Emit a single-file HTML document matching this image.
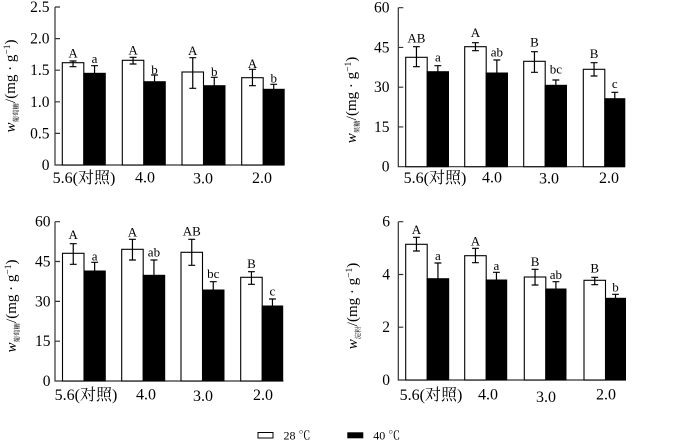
<!DOCTYPE html>
<html><head><meta charset="utf-8"><style>
html,body{margin:0;padding:0;background:#fff;}
svg{display:block;}
text{font-family:"Liberation Serif","Noto Serif CJK SC",serif;fill:#000;}
.tk{font-size:15.5px;text-anchor:end;}
.xl{font-size:16px;text-anchor:middle;}
.lb{font-size:13px;text-anchor:middle;}
.yt{font-size:15px;text-anchor:middle;}
.ax{stroke:#333;stroke-width:1.2;fill:none;}
.wb{fill:#fff;stroke:#000;stroke-width:1.1;}
.bb{fill:#000;stroke:#000;stroke-width:1;}
.eb{stroke:#000;stroke-width:1.2;fill:none;}
</style></head><body>
<svg width="700" height="441" viewBox="0 0 700 441" xmlns="http://www.w3.org/2000/svg">

<!-- ============ Panel 1 ============ -->
<path class="ax" d="M55,7 V165 H284 M55,7 H60 M55,38.6 H60 M55,70.2 H60 M55,101.8 H60 M55,133.4 H60"/>
<text class="tk" x="49.5" y="12">2.5</text>
<text class="tk" x="49.5" y="43.6">2.0</text>
<text class="tk" x="49.5" y="75.2">1.5</text>
<text class="tk" x="49.5" y="106.8">1.0</text>
<text class="tk" x="49.5" y="138.4">0.5</text>
<text class="tk" x="49.5" y="170">0</text>
<text class="yt" transform="rotate(-90 15 86)" x="15" y="86"><tspan font-style="italic">w</tspan><tspan font-size="6.5" dy="3">葡萄糖</tspan><tspan dy="-3">/(mg · g</tspan><tspan font-size="9.5" dy="-5">−1</tspan><tspan dy="5">)</tspan></text>

<rect class="wb" x="62.3" y="62.7" width="21.5" height="102.3"/>
<rect class="bb" x="83.8" y="73.3" width="21.5" height="91.7"/>
<rect class="wb" x="122.3" y="60.3" width="21.5" height="104.7"/>
<rect class="bb" x="143.8" y="81.7" width="21.5" height="83.3"/>
<rect class="wb" x="182" y="72" width="21.5" height="93"/>
<rect class="bb" x="203.5" y="85.7" width="21.5" height="79.3"/>
<rect class="wb" x="241.7" y="77.7" width="21.5" height="87.3"/>
<rect class="bb" x="263.2" y="89.3" width="21" height="75.7"/>
<path class="eb" d="M73.05,61 V66.7 M69.6,61 H76.5 M69.6,66.7 H76.5
M94.55,65.7 V74 M91.1,65.7 H98
M133.05,57.3 V64 M129.6,57.3 H136.5 M129.6,64 H136.5
M154.55,75 V82 M151.1,75 H158
M192.75,57.7 V88.3 M189.3,57.7 H196.2 M189.3,88.3 H196.2
M214.25,77.3 V86 M210.8,77.3 H217.7
M252.45,69.3 V85.7 M249,69.3 H255.9 M249,85.7 H255.9
M273.7,84.3 V90 M270.3,84.3 H277.1"/>
<text class="lb" x="73.05" y="57.7">A</text>
<text class="lb" x="94.55" y="63">a</text>
<text class="lb" x="133.05" y="54.3">A</text>
<text class="lb" x="154.55" y="74">b</text>
<text class="lb" x="192.75" y="55">A</text>
<text class="lb" x="214.25" y="76">b</text>
<text class="lb" x="252.45" y="68">A</text>
<text class="lb" x="273.7" y="82.5">b</text>
<text class="xl" x="84" y="183">5.6(对照)</text>
<text class="xl" x="145" y="182.5">4.0</text>
<text class="xl" x="203" y="183.5">3.0</text>
<text class="xl" x="262" y="183">2.0</text>

<!-- ============ Panel 2 ============ -->
<path class="ax" d="M398.3,7.7 V166.7 H625 M398.3,7.7 H403.3 M398.3,47.45 H403.3 M398.3,87.2 H403.3 M398.3,126.95 H403.3"/>
<text class="tk" x="389.5" y="12.7">60</text>
<text class="tk" x="389.5" y="52.45">45</text>
<text class="tk" x="389.5" y="92.2">30</text>
<text class="tk" x="389.5" y="131.95">15</text>
<text class="tk" x="389.5" y="171.7">0</text>
<text class="yt" transform="rotate(-90 356 100)" x="356" y="100"><tspan font-style="italic">w</tspan><tspan font-size="6.5" dy="3">果糖</tspan><tspan dy="-3">/(mg · g</tspan><tspan font-size="9.5" dy="-5">−1</tspan><tspan dy="5">)</tspan></text>

<rect class="wb" x="405.7" y="57.3" width="21.5" height="109.4"/>
<rect class="bb" x="427.2" y="71.7" width="21.3" height="95"/>
<rect class="wb" x="464.7" y="46.7" width="21.5" height="120"/>
<rect class="bb" x="486.2" y="73" width="21.3" height="93.7"/>
<rect class="wb" x="523.7" y="61.3" width="21.5" height="105.4"/>
<rect class="bb" x="545.2" y="85.3" width="21.3" height="81.4"/>
<rect class="wb" x="583.3" y="69.3" width="21.5" height="97.4"/>
<rect class="bb" x="604.8" y="98.7" width="20" height="68"/>
<path class="eb" d="M416.45,46.7 V66.7 M413,46.7 H419.9 M413,66.7 H419.9
M437.85,65.7 V72 M434.4,65.7 H441.3
M475.45,42.7 V50.7 M472,42.7 H478.9 M472,50.7 H478.9
M496.85,60 V74 M493.4,60 H500.3
M534.45,51.7 V72.3 M531,51.7 H537.9 M531,72.3 H537.9
M555.85,80 V86 M552.4,80 H559.3
M594.05,62.7 V76 M590.6,62.7 H597.5 M590.6,76 H597.5
M614.8,92.3 V99 M611.4,92.3 H618.2"/>
<text class="lb" x="416.45" y="42.3">AB</text>
<text class="lb" x="437.85" y="61.3">a</text>
<text class="lb" x="475.45" y="37">A</text>
<text class="lb" x="496.85" y="56.5">ab</text>
<text class="lb" x="534.45" y="46.5">B</text>
<text class="lb" x="555.85" y="73.7">bc</text>
<text class="lb" x="594.05" y="58">B</text>
<text class="lb" x="614.8" y="88">c</text>
<text class="xl" x="435" y="183">5.6(对照)</text>
<text class="xl" x="492" y="182.5">4.0</text>
<text class="xl" x="549" y="183.5">3.0</text>
<text class="xl" x="609" y="183">2.0</text>

<!-- ============ Panel 3 ============ -->
<path class="ax" d="M55,221.7 V381 H283.5 M55,221.7 H60 M55,261.5 H60 M55,301.4 H60 M55,341.2 H60"/>
<text class="tk" x="50.5" y="226.7">60</text>
<text class="tk" x="50.5" y="266.5">45</text>
<text class="tk" x="50.5" y="306.4">30</text>
<text class="tk" x="50.5" y="346.2">15</text>
<text class="tk" x="50.5" y="386">0</text>
<text class="yt" transform="rotate(-90 16 306)" x="16" y="306"><tspan font-style="italic">w</tspan><tspan font-size="6.5" dy="3">葡萄糖</tspan><tspan dy="-3">/(mg · g</tspan><tspan font-size="9.5" dy="-5">−1</tspan><tspan dy="5">)</tspan></text>

<rect class="wb" x="62.5" y="253.3" width="21.5" height="127.7"/>
<rect class="bb" x="84" y="271" width="21.3" height="110"/>
<rect class="wb" x="121.7" y="249.3" width="21.5" height="131.7"/>
<rect class="bb" x="143.2" y="275.3" width="21.5" height="105.7"/>
<rect class="wb" x="181" y="252.3" width="21.5" height="128.7"/>
<rect class="bb" x="202.5" y="290" width="21.5" height="91"/>
<rect class="wb" x="240.7" y="277.3" width="21.5" height="103.7"/>
<rect class="bb" x="262.2" y="306" width="20.5" height="75"/>
<path class="eb" d="M73.25,243.7 V264.3 M69.8,243.7 H76.7 M69.8,264.3 H76.7
M94.65,262.3 V272 M91.2,262.3 H98.1
M132.45,239.3 V260 M129,239.3 H135.9 M129,260 H135.9
M153.95,260 V276 M150.5,260 H157.4
M191.75,239.3 V265.3 M188.3,239.3 H195.2 M188.3,265.3 H195.2
M213.25,281.7 V291 M209.8,281.7 H216.7
M251.45,271.7 V284.3 M248,271.7 H254.9 M248,284.3 H254.9
M272.45,299 V307 M269,299 H275.9"/>
<text class="lb" x="73.25" y="239">A</text>
<text class="lb" x="94.65" y="260.5">a</text>
<text class="lb" x="132.45" y="236.5">A</text>
<text class="lb" x="153.95" y="256.5">ab</text>
<text class="lb" x="191.75" y="235.5">AB</text>
<text class="lb" x="213.25" y="278">bc</text>
<text class="lb" x="251.45" y="268">B</text>
<text class="lb" x="272.45" y="295.5">c</text>
<text class="xl" x="86" y="400">5.6(对照)</text>
<text class="xl" x="146" y="399.5">4.0</text>
<text class="xl" x="203" y="401">3.0</text>
<text class="xl" x="263" y="400">2.0</text>

<!-- ============ Panel 4 ============ -->
<path class="ax" d="M398.3,221.7 V380 H626 M398.3,221.7 H403.3 M398.3,274.5 H403.3 M398.3,327.2 H403.3"/>
<text class="tk" x="390" y="226.7">6</text>
<text class="tk" x="390" y="279.5">4</text>
<text class="tk" x="390" y="332.2">2</text>
<text class="tk" x="390" y="385">0</text>
<text class="yt" transform="rotate(-90 357 306)" x="357" y="306"><tspan font-style="italic">w</tspan><tspan font-size="6.5" dy="3">淀粉</tspan><tspan dy="-3">/(mg · g</tspan><tspan font-size="9.5" dy="-5">−1</tspan><tspan dy="5">)</tspan></text>

<rect class="wb" x="405.7" y="244.3" width="21.5" height="135.7"/>
<rect class="bb" x="427.2" y="278.7" width="21.5" height="101.3"/>
<rect class="wb" x="464.7" y="255.7" width="21.5" height="124.3"/>
<rect class="bb" x="486.2" y="280" width="20.5" height="100"/>
<rect class="wb" x="524.3" y="277" width="21.5" height="103"/>
<rect class="bb" x="545.8" y="289" width="20.2" height="91"/>
<rect class="wb" x="584" y="280.3" width="21.5" height="99.7"/>
<rect class="bb" x="605.5" y="298.3" width="20" height="81.7"/>
<path class="eb" d="M416.45,237.3 V251 M413,237.3 H419.9 M413,251 H419.9
M437.95,263 V279 M434.5,263 H441.4
M475.45,248.3 V262.7 M472,248.3 H478.9 M472,262.7 H478.9
M496.45,272.3 V281 M493,272.3 H499.9
M535.05,269.3 V285 M531.6,269.3 H538.5 M531.6,285 H538.5
M555.9,281.7 V290 M552.5,281.7 H559.3
M594.75,277.3 V284.7 M591.3,277.3 H598.2 M591.3,284.7 H598.2
M615.5,294.3 V299 M612.1,294.3 H618.9"/>
<text class="lb" x="416.45" y="234">A</text>
<text class="lb" x="437.95" y="260">a</text>
<text class="lb" x="475.45" y="245.5">A</text>
<text class="lb" x="496.45" y="270">a</text>
<text class="lb" x="535.05" y="266">B</text>
<text class="lb" x="555.9" y="279">ab</text>
<text class="lb" x="594.75" y="272.5">B</text>
<text class="lb" x="615.5" y="291.5">b</text>
<text class="xl" x="431" y="400">5.6(对照)</text>
<text class="xl" x="488" y="399.5">4.0</text>
<text class="xl" x="546" y="402">3.0</text>
<text class="xl" x="606" y="399.5">2.0</text>

<!-- ============ Legend ============ -->
<rect x="258" y="432.5" width="15" height="5.5" fill="#fff" stroke="#000" stroke-width="1"/>
<text x="283.5" y="439.5" font-size="12">28 ℃</text>
<rect x="347.3" y="432.3" width="16" height="6" fill="#000"/>
<text x="373.3" y="439.5" font-size="12">40 ℃</text>
</svg>
</body></html>
